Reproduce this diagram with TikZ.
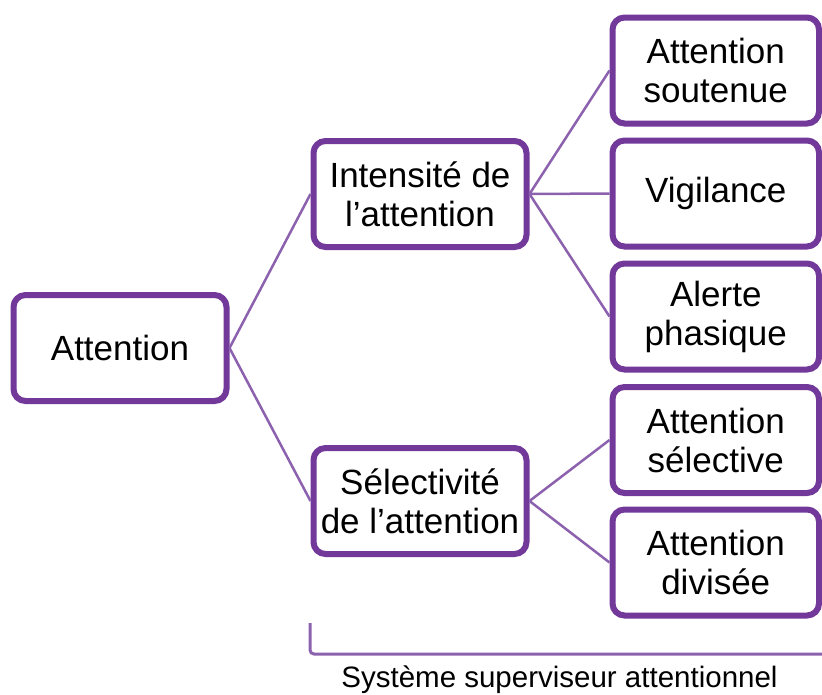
\documentclass[tikz,border=0pt]{standalone}
\usepackage{fontspec}
\setmainfont{Liberation Sans}
\definecolor{boxc}{HTML}{72389A}
\definecolor{linec}{HTML}{8C62AE}
\begin{document}
\begin{tikzpicture}[x=1pt,y=-1pt,
  box/.style={draw=boxc, line width=6pt, rounded corners=12pt, fill=white,
    align=center, font=\fontsize{35}{39}\selectfont, inner sep=0pt,
    minimum height=106pt},
  midbox/.style={box, minimum width=213pt},
  rbox/.style={box, minimum width=206.5pt},
  conn/.style={draw=linec, line width=2.5pt}]
\useasboundingbox (0,0) rectangle (822,694);
\node[midbox] (att) at (120,348) {Attention};
\node[midbox] (int) at (420,194) {Intensité de\\l’attention};
\node[midbox] (sel) at (420,501) {Sélectivité\\de l’attention};
\node[rbox] (sout) at (715.75,70.5) {Attention\\soutenue};
\node[rbox] (vig) at (715.75,193.5) {Vigilance};
\node[rbox] (alt) at (715.75,316.5) {Alerte\\phasique};
\node[rbox] (aselr) at (715.75,440) {Attention\\sélective};
\node[rbox] (div) at (715.75,562.5) {Attention\\divisée};
\draw[conn] (att.east) -- (int.west);
\draw[conn] (att.east) -- (sel.west);
\draw[conn] (int.east) -- (sout.west);
\draw[conn] (int.east) -- (vig.west);
\draw[conn] (int.east) -- (alt.west);
\draw[conn] (sel.east) -- (aselr.west);
\draw[conn] (sel.east) -- (div.west);
\coordinate (bt) at (310,623);
\coordinate (br) at (822,654);
\draw[conn, line width=3pt, rounded corners=4pt] (bt) |- (br);
\node[font=\fontsize{29.5}{33}\selectfont, anchor=base] (sys) at (559.5,687) {Système superviseur attentionnel};
\end{tikzpicture}
\end{document}
